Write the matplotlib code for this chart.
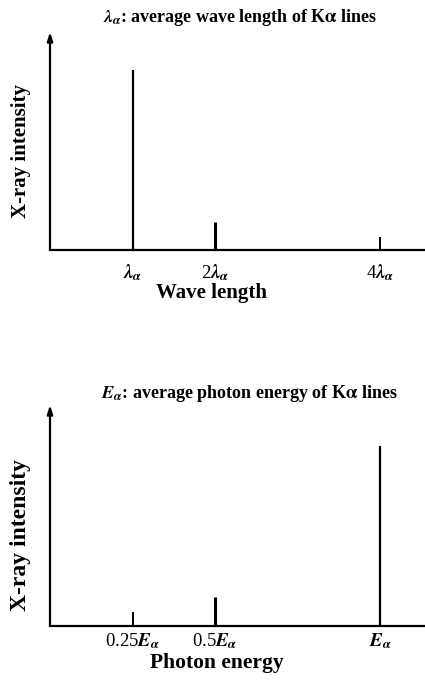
import matplotlib
matplotlib.use('Agg')
import matplotlib.pyplot as plt

# ── Estilo ────────────────────────────────────────────────────────────────────
plt.rcParams.update({
    'font.family': 'Liberation Serif',
    'font.weight': 'bold',
    'mathtext.fontset': 'stix',
    'axes.linewidth': 1.6,
})

# ── Datos ─────────────────────────────────────────────────────────────────────
# Espectro en longitud de onda (en unidades de lambda_alpha)
wl_pos = [1, 2, 4]
wl_int = [1.0, 0.155, 0.072]
wl_labels = [r'$\lambda_\alpha$', r'2$\lambda_\alpha$', r'4$\lambda_\alpha$']

# Espectro en energía (en unidades de E_alpha)
en_pos = [0.25, 0.5, 1.0]
en_int = [0.078, 0.161, 1.0]
en_labels = [r'0.25$E_\alpha$', r'0.5$E_\alpha$', r'$E_\alpha$']

W, H = 425, 681
fig = plt.figure(figsize=(W / 100, H / 100), dpi=100)


def panel(bottom_px, top_px, xmax, pos, inten, labels, lw, tick_pad):
    h = bottom_px - top_px
    ax = fig.add_axes([50 / W, (H - bottom_px) / H, 375 / W, h / H])
    ax.vlines(pos, 0, inten, colors='black', linewidth=lw)
    ax.set_xlim(0, xmax)
    ax.set_ylim(0, h / 180)
    for s in ('top', 'right', 'left'):
        ax.spines[s].set_visible(False)
    ax.set_yticks([])
    ax.set_xticks(pos, labels, fontsize=13.5, fontweight='normal')
    ax.tick_params(axis='x', length=0, pad=tick_pad)
    # eje vertical con flecha
    ax.annotate('', xy=(0, 1), xytext=(0, 0), xycoords='axes fraction',
                arrowprops=dict(arrowstyle='-|>,head_length=0.5,head_width=0.16',
                                color='black', lw=1.6, shrinkA=0, shrinkB=0))
    return ax, h


ax1, h1 = panel(250, 32, 375 / 82.5, wl_pos, wl_int, wl_labels,
                [1.6, 2.2, 1.4], 9)
ax1.set_xlabel('Wave length', fontsize=15, fontweight='bold')
ax1.xaxis.set_label_coords(162 / 375, -33 / h1)
ax1.set_ylabel('X-ray intensity', fontsize=15, fontweight='bold')
ax1.yaxis.set_label_coords(-19 / 375, 0.454)

ax2, h2 = panel(626, 405, 375 / 330, en_pos, en_int, en_labels,
                [1.4, 2.2, 1.6], 4)
ax2.set_xlabel('Photon energy', fontsize=15.5, fontweight='bold')
ax2.xaxis.set_label_coords(167 / 375, -27 / h2)
ax2.set_ylabel('X-ray intensity', fontsize=17, fontweight='bold')
ax2.yaxis.set_label_coords(-19 / 375, 0.41)

fig.text(240 / W, 1 - 18 / H,
         r'$\lambda_\alpha$: average wave length of K$\mathrm{\alpha}$ lines',
         ha='center', va='center', fontsize=13, fontweight='bold')
fig.text(249 / W, 1 - 393 / H,
         r'$E_\alpha$: average photon energy of K$\mathrm{\alpha}$ lines',
         ha='center', va='center', fontsize=13, fontweight='bold')

fig.savefig('out.png', dpi=100, facecolor='white')
